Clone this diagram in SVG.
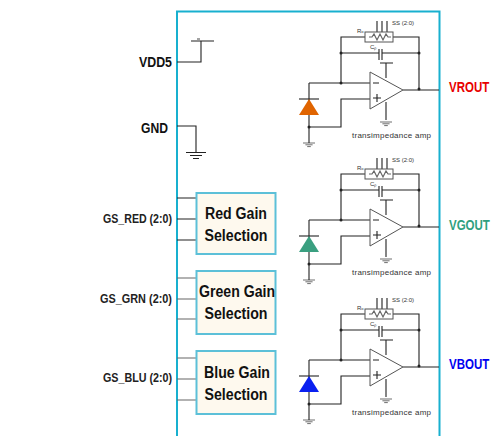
<svg xmlns="http://www.w3.org/2000/svg" width="491" height="436" viewBox="0 0 491 436">
<style>
text{font-family:"Liberation Sans",Arial,sans-serif}
.w{fill:none;stroke:#222;stroke-width:1.1}
.g{fill:none;stroke:#666;stroke-width:1.2}
.d{fill:#222}
.amp{fill:#fff;stroke:#555;stroke-width:1}
.box{fill:#fef9ee;stroke:#5cc0d8;stroke-width:2}
.bt{font-size:16px;font-weight:bold;fill:#111;text-anchor:middle}
.pin{font-size:12px;font-weight:bold;fill:#222;text-anchor:end}
.sig{font-size:11.5px;font-weight:bold}
.tiny{font-size:6px;fill:#333}
.cap{font-size:8px;fill:#333}
</style>
<defs>
<g id="gnd" class="w"><path d="M-10 0H10M-6 3H6M-3 6H3"/></g>
<g id="amp-core">
<path class="w" d="M341 83V37H365M393 37H419V90M341 53H379M382 53H419M379 49V60M382 49V60M377 21V32M382 21V32M387 21V32M380 63H393M386 63V78M386 102V120M403 90H439M309 83H370M309 83V143M309 127H341V99H370"/>
<path class="w" d="M299 99H319"/>
<rect class="amp" x="365" y="32" width="28" height="10"/>
<path class="g" d="M369 37l3 0 2-3 3 6 3-6 3 6 3-6 2 3h3" stroke-width=".8"/>
<path class="amp" d="M370 72V109L403 90Z"/>
<path class="w" d="M373 83H379M373 98H381M377 94V102"/>
<circle class="d" cx="341" cy="83" r="1.500"/><circle class="d" cx="341" cy="53" r="1.500"/><circle class="d" cx="419" cy="53" r="1.500"/><circle class="d" cx="419" cy="89" r="1.500"/><circle class="d" cx="309" cy="127" r="1.500"/>
<use href="#gnd" transform="translate(386 122) scale(.6)"/>
<use href="#gnd" transform="translate(309 143) scale(.6)"/>
</g>
</defs>
<rect width="491" height="436" fill="#fff"/>
<path d="M177 436V11.500H439.500V436" fill="none" stroke="#18b0cf" stroke-width="2"/>

<g id="connectors">
<path class="w" d="M177 62H201V41M191 41H214M177 126H196V152"/>
<path class="g" d="M197 39H200"/>
<use href="#gnd" transform="translate(196 152.500)"/>
<path class="w" d="M177 198H196M177 219H196M177 240H196"/>
<path class="g" d="M177 278H196M177 299H196M177 319H196M177 358H196M177 379H196M177 400H196"/>
</g>

<g id="vdd5"><text x="139" y="67" font-size="14" font-weight="bold" fill="#111" textLength="33" lengthAdjust="spacingAndGlyphs">VDD5</text></g>
<g id="gnd-pin"><text x="141" y="133" font-size="14" font-weight="bold" fill="#111" textLength="27" lengthAdjust="spacingAndGlyphs">GND</text></g>

<g id="red-gain">
<rect class="box" x="196.500" y="193" width="79" height="61"/>
<text class="bt" x="236" y="219" textLength="62" lengthAdjust="spacingAndGlyphs">Red Gain</text>
<text class="bt" x="236" y="241" textLength="63" lengthAdjust="spacingAndGlyphs">Selection</text>
<text class="pin" x="172" y="223" textLength="69" lengthAdjust="spacingAndGlyphs">GS_RED (2:0)</text>
</g>
<g id="green-gain">
<rect class="box" x="196.500" y="271" width="79" height="63"/>
<text class="bt" x="237" y="297" textLength="76" lengthAdjust="spacingAndGlyphs">Green Gain</text>
<text class="bt" x="236" y="319" textLength="63" lengthAdjust="spacingAndGlyphs">Selection</text>
<text class="pin" x="172" y="303" textLength="72" lengthAdjust="spacingAndGlyphs">GS_GRN (2:0)</text>
</g>
<g id="blue-gain">
<rect class="box" x="196.500" y="351" width="79" height="63"/>
<text class="bt" x="237" y="378" textLength="66" lengthAdjust="spacingAndGlyphs">Blue Gain</text>
<text class="bt" x="236" y="400" textLength="63" lengthAdjust="spacingAndGlyphs">Selection</text>
<text class="pin" x="172" y="382" textLength="69" lengthAdjust="spacingAndGlyphs">GS_BLU (2:0)</text>
</g>

<g id="amp-red">
<use href="#amp-core"/>
<path d="M309 99L319 115H299Z" fill="#e06400"/>
<text class="tiny" x="392" y="25">SS (2:0)</text><text class="tiny" x="357" y="33">Rₒ</text><text class="tiny" x="370" y="49">Cₚ</text>
<text class="cap" x="352" y="138" textLength="79">transimpedance amp</text>
<text class="sig" transform="translate(449 92) scale(1 1.2)" fill="#e80000">VROUT</text>
</g>
<g id="amp-green">
<use href="#amp-core" y="137"/>
<path d="M309 236L319 252H299Z" fill="#3a9f80"/>
<text class="tiny" x="392" y="162">SS (2:0)</text><text class="tiny" x="357" y="170">Rₒ</text><text class="tiny" x="370" y="186">Cₚ</text>
<text class="cap" x="352" y="275" textLength="79">transimpedance amp</text>
<text class="sig" transform="translate(449 230) scale(1 1.2)" fill="#2f9f80">VGOUT</text>
</g>
<g id="amp-blue">
<use href="#amp-core" y="277"/>
<path d="M309 376L319 392H299Z" fill="#0a20f0"/>
<text class="tiny" x="392" y="302">SS (2:0)</text><text class="tiny" x="357" y="310">Rₒ</text><text class="tiny" x="370" y="326">Cₚ</text>
<text class="cap" x="352" y="415" textLength="79">transimpedance amp</text>
<text class="sig" transform="translate(449 369) scale(1 1.2)" fill="#0000f0">VBOUT</text>
</g>
</svg>
